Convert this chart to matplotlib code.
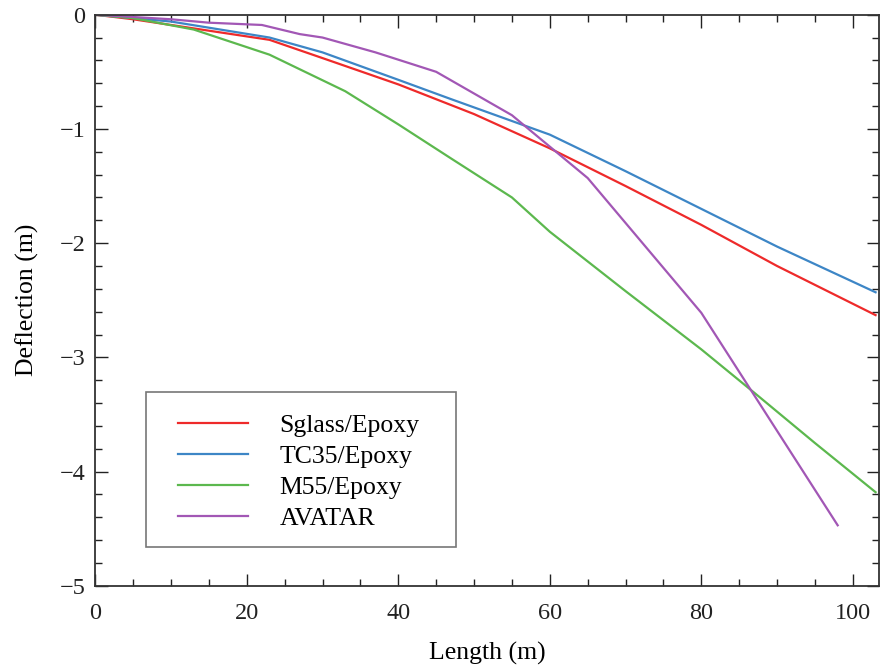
import matplotlib
matplotlib.use("Agg")
import matplotlib.pyplot as plt
from matplotlib.ticker import MultipleLocator
from matplotlib.patches import Rectangle

plt.rcParams['font.family'] = ['Liberation Serif', 'DejaVu Serif']

sglass_x = [0, 5, 13, 23, 30, 40, 50, 60, 70, 80, 90, 103]
sglass_y = [0, -0.04, -0.12, -0.22, -0.38, -0.61, -0.87, -1.17, -1.5, -1.84, -2.2, -2.63]

tc35_x = [0, 10, 23, 30, 40, 47, 60, 70, 80, 90, 103]
tc35_y = [0, -0.06, -0.2, -0.33, -0.57, -0.74, -1.05, -1.37, -1.7, -2.03, -2.43]

m55_x = [0, 5, 13, 23, 33, 40, 47, 55, 60, 70, 80, 87, 95, 103]
m55_y = [0, -0.03, -0.13, -0.35, -0.67, -0.96, -1.26, -1.6, -1.9, -2.42, -2.93, -3.31, -3.75, -4.18]

avatar_x = [0, 5, 10, 15, 22, 27, 30, 37, 45, 55, 65, 80, 98]
avatar_y = [0, -0.02, -0.04, -0.07, -0.09, -0.17, -0.2, -0.33, -0.5, -0.88, -1.43, -2.61, -4.47]

labels = ['Sglass/Epoxy', 'TC35/Epoxy', 'M55/Epoxy', 'AVATAR']
colors = ['#ee2a2a', '#3d86c6', '#5cb84e', '#a257b5']

fig = plt.figure(figsize=(8.82, 6.68), dpi=100)
ax = fig.add_axes([0.108, 0.123, 0.889, 0.855])

series = [(sglass_x, sglass_y), (tc35_x, tc35_y), (m55_x, m55_y), (avatar_x, avatar_y)]
for (x, y), lab, c in zip(series, labels, colors):
    ax.plot(x, y, color=c, lw=1.6, label=lab)

ax.set_xlim(0, 103.5)
ax.set_ylim(-5, 0)
ax.xaxis.set_major_locator(MultipleLocator(20))
ax.xaxis.set_minor_locator(MultipleLocator(5))
ax.yaxis.set_major_locator(MultipleLocator(1))
ax.yaxis.set_minor_locator(MultipleLocator(0.2))
ax.tick_params(which='both', direction='in', top=True, right=True, labelsize=17.5, colors='#222222')
ax.tick_params(which='major', length=9, width=1.0)
ax.tick_params(which='minor', length=5, width=1.0)
ax.tick_params(axis='x', which='both', pad=12)
ax.tick_params(axis='y', which='both', pad=7)
for s in ax.spines.values():
    s.set_linewidth(1.3)
    s.set_color('#333333')

ax.set_xlabel('Length (m)', fontsize=18.5, labelpad=13)
ax.set_ylabel('Deflection (m)', fontsize=18.5, labelpad=15)

# legend frame drawn as a rectangle, entries placed without own frame
frame = Rectangle((0.065, 0.068), 0.395, 0.272, transform=ax.transAxes,
                  facecolor='white', edgecolor='#777777', lw=1.2, zorder=4)
ax.add_patch(frame)
leg = ax.legend(loc='upper left', bbox_to_anchor=(0.1057, 0.301), fontsize=18.5,
                handlelength=2.7, handletextpad=1.25, labelspacing=0.31,
                borderpad=0, borderaxespad=0, frameon=False)
leg.set_zorder(5)

fig.savefig('out.png', dpi=100)
